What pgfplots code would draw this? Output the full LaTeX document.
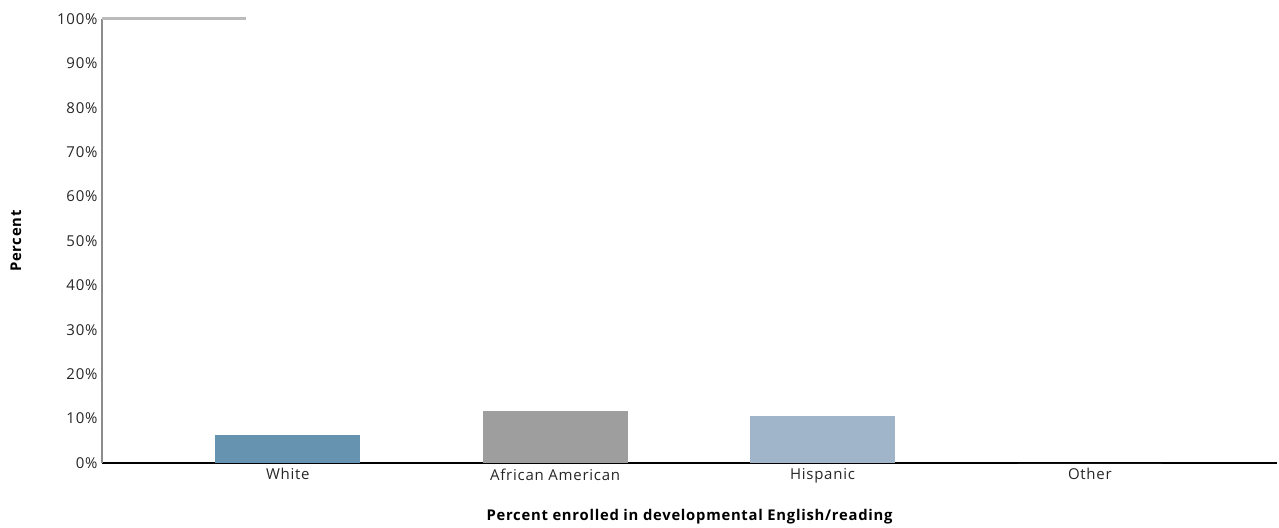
\documentclass[border=0pt]{standalone}
\usepackage{pgfplots}
\pgfplotsset{compat=1.18}
\usepackage{fontspec}
\setmainfont{Open Sans}[LetterSpace=5]
\definecolor{cWhite}{HTML}{6693AF}
\definecolor{cAA}{HTML}{9E9E9E}
\definecolor{cHisp}{HTML}{A0B5C9}
\definecolor{cTop}{HTML}{BBBBBB}
\begin{document}
\begin{tikzpicture}
\begin{axis}[
  name=ax,
  scale only axis,
  width=1175pt, height=444pt,
  xmin=-0.695, xmax=3.7,
  ymin=0, ymax=100,
  axis x line*=bottom,
  axis y line*=left,
  x axis line style={black, line width=1.5pt, -},
  y axis line style={gray!90, line width=1.2pt, -},
  xtick={0,1,2,3},
  xticklabels={White,African American,Hispanic,Other},
  ytick={0,10,...,100},
  yticklabel={\pgfmathprintnumber{\tick}\%},
  /pgf/number format/assume math mode=true,
  major tick length=0pt,
  tick label style={font=\fontsize{15}{17}\selectfont, text=black!85},
  xticklabel style={yshift=-2pt},
  yticklabel style={xshift=-1pt},
  xlabel={\bfseries Percent enrolled in developmental English/reading},
  ylabel={\bfseries Percent},
  label style={font=\fontsize{14.8}{16}\selectfont},
  xlabel style={at={(axis description cs:0.5,-0.1216)}, anchor=center},
  ylabel style={at={(axis description cs:-0.0732,0.5)}, anchor=center},
  clip=false,
]
\addplot[ybar, bar width=0.542, bar shift=0pt, fill=cWhite, draw=none] coordinates {(0,6.3)};
\addplot[ybar, bar width=0.542, bar shift=0pt, fill=cAA, draw=none] coordinates {(1,11.8)};
\addplot[ybar, bar width=0.542, bar shift=0pt, fill=cHisp, draw=none] coordinates {(2,10.5)};
\addplot[ybar, bar width=0.542, bar shift=0pt, fill=gray, draw=none] coordinates {(3,0)};
\addplot[draw=cTop, line width=3pt, no markers] coordinates {(-0.695,100) (-0.157,100)};
\end{axis}
\path[use as bounding box] ([shift={(-102pt,-63pt)}]ax.south west) rectangle ([shift={(2pt,19pt)}]ax.north east);
\end{tikzpicture}
\end{document}
